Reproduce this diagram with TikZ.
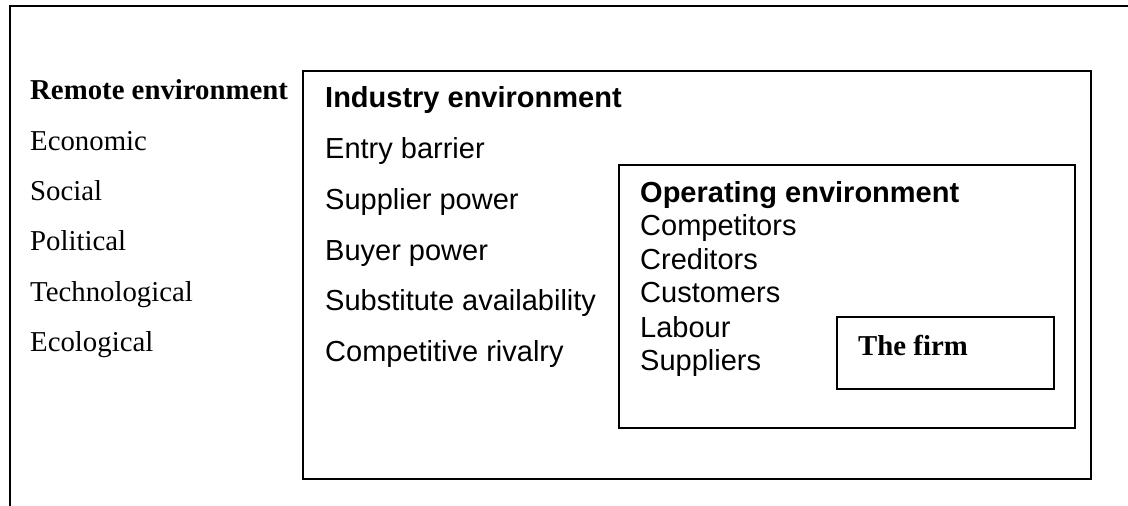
\documentclass[tikz,border=0pt]{standalone}
\usepackage{fontspec}
\setmainfont{Liberation Serif}
\setsansfont{Liberation Sans}
\begin{document}
\begin{tikzpicture}[x=1pt,y=1pt,
  frame/.style={draw=black, line width=2pt, inner sep=0pt, anchor=north west},
  serif/.style={anchor=base west, inner sep=0pt, font=\fontsize{28.8}{34}\selectfont\rmfamily},
  serifb/.style={serif, font=\fontsize{28.8}{34}\selectfont\rmfamily\bfseries},
  sans/.style={anchor=base west, inner sep=0pt, font=\fontsize{29}{34}\selectfont\sffamily},
  sansb/.style={sans, font=\fontsize{29}{34}\selectfont\sffamily\bfseries}]
\useasboundingbox (0,0) rectangle (1128,-506);
% outer environment lines
\coordinate (obl) at (10,-510);
\coordinate (otl) at (10,-6);
\coordinate (otr) at (1132,-6);
\draw[line width=2pt] (obl) -- (otl) -- (otr);
% boxes
\node[frame, minimum width=788pt, minimum height=408pt] (industry) at (302,-70) {};
\node[frame, minimum width=456pt, minimum height=263pt] (operating) at (618,-164) {};
\node[frame, minimum width=217pt, minimum height=72pt] (firm) at (836,-316) {};
% remote environment
\node[serifb] (r0) at (30,-99) {Remote environment};
\node[serif] (r1) at (30,-150) {Economic};
\node[serif] (r2) at (30,-200) {Social};
\node[serif] (r3) at (30,-250) {Political};
\node[serif] (r4) at (30,-301) {Technological};
\node[serif] (r5) at (30,-351) {Ecological};
% industry environment
\node[sansb] (i0) at (325,-107) {Industry environment};
\node[sans] (i1) at (325,-158) {Entry barrier};
\node[sans] (i2) at (325,-209) {Supplier power};
\node[sans] (i3) at (325,-260) {Buyer power};
\node[sans] (i4) at (325,-310) {Substitute availability};
\node[sans] (i5) at (325,-361) {Competitive rivalry};
% operating environment
\node[sansb] (o0) at (640,-202) {Operating environment};
\node[sans] (o1) at (640,-235) {Competitors};
\node[sans] (o2) at (640,-269) {Creditors};
\node[sans] (o3) at (640,-302) {Customers};
\node[sans] (o4) at (640,-337) {Labour};
\node[sans] (o5) at (640,-370) {Suppliers};
% firm
\node[serifb] (f0) at (858,-355) {The firm};
\end{tikzpicture}
\end{document}
